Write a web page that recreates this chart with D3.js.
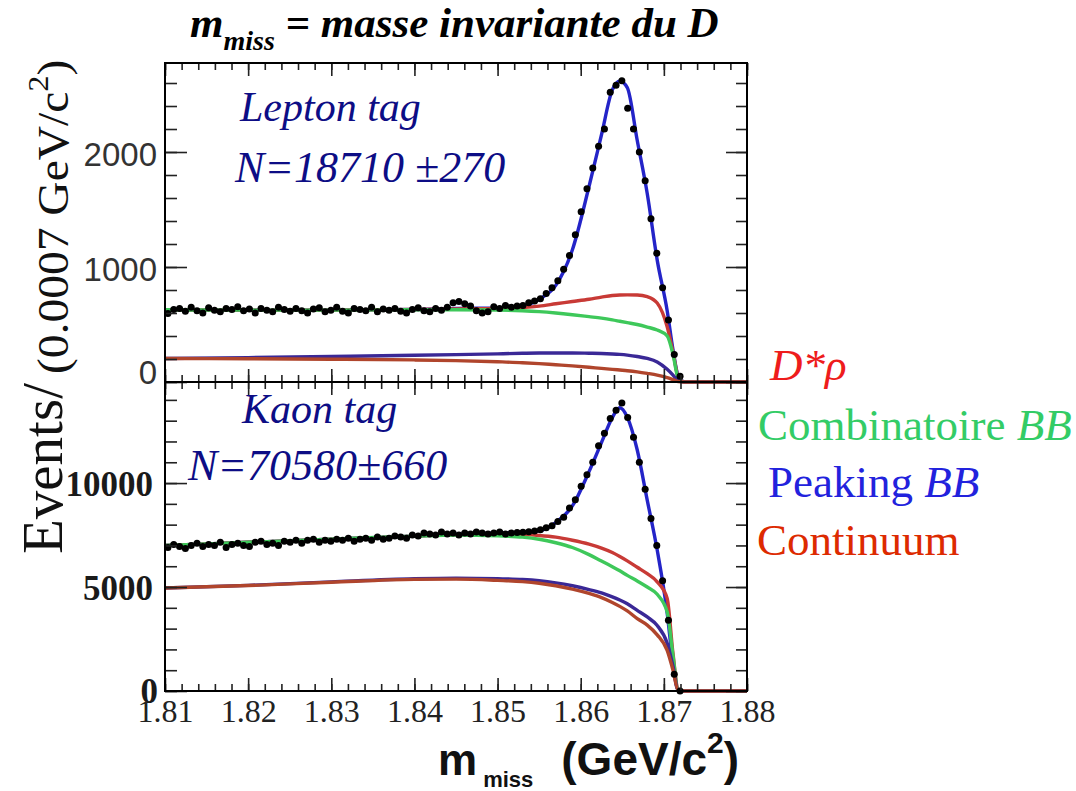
<!DOCTYPE html>
<meta charset="utf-8">
<head>
<script src="https://d3js.org/d3.v7.min.js"></script>
<style>
  body { margin: 0; background: #fff; }
  svg text { font-family: "Liberation Serif", "Times New Roman", serif; }
</style>
</head>
<body>
<script>
"use strict";

// histogram binning (0.0007 GeV/c^2 per bin, starting at 1.81)
var binLo = 1.81, binW = 0.0007;

// data points, lepton tag (events per bin)
var lepCounts = [
  595, 630, 640, 615, 650, 620, 600, 645, 625, 610,
  640, 630, 655, 620, 635, 600, 640, 625, 610, 650,
  630, 615, 640, 620, 600, 635, 645, 610, 625, 650,
  615, 600, 640, 630, 620, 650, 610, 635, 625, 640,
  615, 600, 630, 645, 620, 610, 640, 625, 650, 690,
  700, 680, 660, 620, 600, 610, 655, 640, 665, 650,
  660, 665, 690, 705, 725, 770, 820, 880, 980, 1100,
  1280, 1480, 1680, 1860, 2050, 2200, 2520, 2580, 2620, 2380,
  2200, 2000, 1750, 1420, 1120, 820, 540, 240, 50
];

// data points, kaon tag
var kaoCounts = [
  6900, 7050, 6950, 6850, 7000, 7100, 6950, 7050, 7000, 7150,
  6900, 7050, 7100, 7000, 6950, 7150, 7200, 7050, 7100, 7000,
  7200, 7150, 7250, 7100, 7250, 7300, 7150, 7250, 7200, 7300,
  7250, 7350, 7200, 7300, 7350, 7250, 7400, 7300, 7350, 7450,
  7400, 7350, 7500, 7450, 7600, 7550, 7500, 7650, 7550, 7600,
  7500, 7600, 7550, 7650, 7600, 7550, 7600, 7650, 7550, 7600,
  7620, 7630, 7660, 7700, 7760, 7850, 7950, 8150, 8350, 8800,
  9200, 9850, 10400, 11000, 11800, 12400, 13100, 13500, 13850, 13150,
  12200, 11000, 9700, 8300, 7000, 5300, 3400, 800, 0
];

// fit curves (stacked), read at these masses
var knotX = [1.81, 1.82, 1.83, 1.84, 1.845, 1.85, 1.853, 1.855, 1.857, 1.859, 1.861, 1.8625,
             1.8638, 1.8647, 1.8656, 1.8668, 1.868, 1.8692, 1.8704, 1.8711, 1.8717, 1.8725, 1.88];

var lepTotal = [628, 625, 625, 630, 640, 642, 660, 720, 840, 1150, 1700, 2150, 2540, 2615, 2560, 2100, 1640, 1060, 620, 280, 60, 0, 0];
var lepDrho  = [628, 625, 625, 630, 636, 640, 648, 660, 680, 700, 720, 738, 752, 757, 758, 757, 742, 687, 480, 260, 50, 0, 0];
var lepComb  = [628, 625, 625, 628, 628, 626, 620, 612, 600, 585, 568, 555, 540, 528, 516, 500, 478, 452, 400, 240, 40, 0, 0];
var lepPeak  = [205, 212, 222, 232, 238, 245, 250, 252, 252, 252, 250, 248, 244, 240, 234, 222, 205, 174, 110, 60, 12, 0, 0];
var lepCont  = [205, 202, 198, 192, 186, 176, 168, 160, 150, 140, 128, 118, 110, 104, 98, 88, 75, 60, 38, 20, 4, 0, 0];

var kaoTotal = [7000, 7150, 7300, 7450, 7540, 7600, 7620, 7700, 8100, 8900, 10550, 11950, 13150, 13620, 13170, 11590, 9180, 6780, 3750, 1300, 50, 0, 0];
var kaoDrho  = [7000, 7150, 7300, 7450, 7520, 7540, 7520, 7480, 7400, 7250, 7060, 6870, 6660, 6470, 6260, 5950, 5640, 5250, 4450, 1800, 100, 0, 0];
var kaoComb  = [7000, 7150, 7300, 7450, 7500, 7460, 7400, 7300, 7130, 6900, 6560, 6250, 5980, 5780, 5560, 5290, 5000, 4650, 3800, 1700, 80, 0, 0];
var kaoPeak  = [4950, 5080, 5250, 5400, 5430, 5400, 5360, 5300, 5200, 5060, 4880, 4720, 4530, 4380, 4200, 3880, 3560, 3150, 2300, 1200, 60, 0, 0];
var kaoCont  = [4950, 5070, 5230, 5370, 5380, 5320, 5260, 5180, 5060, 4900, 4690, 4490, 4260, 4070, 3850, 3480, 3170, 2700, 1950, 1000, 40, 0, 0];

var xTicks = [1.81, 1.82, 1.83, 1.84, 1.85, 1.86, 1.87, 1.88];

var width = 1076, height = 791;
var svg = d3.select("body").append("svg")
    .attr("width", width)
    .attr("height", height);

var x = d3.scaleLinear().domain([1.81, 1.88]).range([165, 747]);
var yTop = d3.scaleLinear().domain([0, 2774]).range([382, 63]);
var yBot = d3.scaleLinear().domain([0, 14860]).range([691, 382]);

var colors = {
  total: "#2424c8",
  drho: "#c83a36",
  comb: "#3ec85a",
  peak: "#3a2896",
  cont: "#b0452c"
};

function drawPanel(y, counts, curves) {
  var g = svg.append("g");
  var line = d3.line()
      .x((d) => x(d[0]))
      .y((d) => y(d[1]))
      .curve(d3.curveMonotoneX);

  curves.forEach(function(c) {
    g.append("path")
      .datum(knotX.map((k, i) => [k, c.values[i]]))
      .attr("fill", "none")
      .attr("stroke", c.color)
      .attr("stroke-width", 3.4)
      .attr("d", line);
  });

  var pts = counts.map((v, i) => [binLo + binW * (i + 0.5), v]);
  g.selectAll("line.bin")
    .data(pts)
    .enter().append("line")
      .attr("x1", (d) => x(d[0] - binW / 2))
      .attr("x2", (d) => x(d[0] + binW / 2))
      .attr("y1", (d) => y(d[1]))
      .attr("y2", (d) => y(d[1]))
      .attr("stroke", "#000")
      .attr("stroke-width", 2.6);
  g.selectAll("circle")
    .data(pts)
    .enter().append("circle")
      .attr("cx", (d) => x(d[0]))
      .attr("cy", (d) => y(d[1]))
      .attr("r", 3.5)
      .attr("fill", "#000");
  return g;
}

drawPanel(yTop, lepCounts, [
  {values: lepTotal, color: colors.total},
  {values: lepDrho, color: colors.drho},
  {values: lepComb, color: colors.comb},
  {values: lepPeak, color: colors.peak},
  {values: lepCont, color: colors.cont}
]);
drawPanel(yBot, kaoCounts, [
  {values: kaoTotal, color: colors.total},
  {values: kaoDrho, color: colors.drho},
  {values: kaoComb, color: colors.comb},
  {values: kaoPeak, color: colors.peak},
  {values: kaoCont, color: colors.cont}
]);

// frames and ticks
function ticks(axis, tr, size) {
  var g = svg.append("g").attr("transform", tr)
    .call(axis.tickSizeInner(size).tickSizeOuter(0));
  g.select(".domain").remove();
  g.selectAll(".tick line").attr("stroke", "#222").attr("stroke-width", 1.6);
  return g;
}
var xMinor = d3.range(0, 36).map((i) => 1.81 + i * 0.002);

[[yTop, 2774, 200, 1000], [yBot, 14860, 1000, 5000]].forEach(function(p) {
  var y = p[0];
  var minor = d3.range(0, p[1], p[2]);
  var major = d3.range(0, p[1], p[3]);
  var y0 = y.range()[0], y1 = y.range()[1];
  ticks(d3.axisLeft(y).tickValues(minor).tickFormat(""), "translate(165,0)", -12);
  ticks(d3.axisLeft(y).tickValues(major).tickFormat(""), "translate(165,0)", -22);
  ticks(d3.axisRight(y).tickValues(minor).tickFormat(""), "translate(747,0)", -11);
  ticks(d3.axisRight(y).tickValues(major).tickFormat(""), "translate(747,0)", -21);
  ticks(d3.axisBottom(x).tickValues(xMinor).tickFormat(""), "translate(0," + y0 + ")", -7);
  ticks(d3.axisBottom(x).tickValues(xTicks).tickFormat(""), "translate(0," + y0 + ")", -13);
  ticks(d3.axisTop(x).tickValues(xMinor).tickFormat(""), "translate(0," + y1 + ")", -7);
  ticks(d3.axisTop(x).tickValues(xTicks).tickFormat(""), "translate(0," + y1 + ")", -13);
  svg.append("rect")
    .attr("x", 165).attr("y", y1)
    .attr("width", 582).attr("height", y0 - y1)
    .attr("fill", "none")
    .attr("stroke", "#000")
    .attr("stroke-width", 2);
});

// y tick labels
var topLab = svg.append("g").attr("transform", "translate(165,0)")
  .call(d3.axisLeft(yTop).tickValues([0, 1000, 2000]).tickFormat(d3.format("d")).tickSize(0).tickPadding(8));
topLab.select(".domain").remove();
topLab.selectAll("text")
  .style("font-family", "'Liberation Sans', Arial, sans-serif")
  .style("font-size", "33px")
  .attr("fill", "#333")
  .attr("dy", "0.42em")
  .filter((d) => d === 0).attr("y", -12);

var botLab = svg.append("g").attr("transform", "translate(165,0)")
  .call(d3.axisLeft(yBot).tickValues([0, 5000, 10000]).tickFormat(d3.format("d")).tickSize(0).tickPadding(12));
botLab.select(".domain").remove();
botLab.selectAll("text")
  .style("font-family", "'Liberation Serif', 'Times New Roman', serif")
  .style("font-size", "35px")
  .style("font-weight", "bold")
  .attr("fill", "#1a1a1a")
  .attr("dy", "0.36em")
  .filter((d) => d === 0).attr("x", -7).attr("y", -1);

// x tick labels
var xLab = svg.append("g").attr("transform", "translate(0,691)")
  .call(d3.axisBottom(x).tickValues(xTicks).tickFormat(d3.format(".2f")).tickSize(0).tickPadding(8));
xLab.select(".domain").remove();
xLab.selectAll("text")
  .style("font-family", "'Liberation Serif', serif")
  .style("font-size", "32px")
  .attr("fill", "#222");

// title
var title = svg.append("text")
  .attr("x", 190).attr("y", 37)
  .style("font-weight", "bold").style("font-style", "italic")
  .style("font-size", "43px");
title.append("tspan").text("m");
title.append("tspan").attr("dy", 13).style("font-size", "28px").text("miss");
title.append("tspan").attr("dy", -13).text(" = masse invariante du D");

// panel annotations
var navy = "#0d0d85";
[["Lepton tag", 240, 121, 42], ["N=18710 \u00b1270", 235, 182, 44],
 ["Kaon tag", 242, 423, 42], ["N=70580\u00b1660", 188, 480, 44]].forEach(function(t) {
  svg.append("text")
    .attr("x", t[1]).attr("y", t[2])
    .style("font-style", "italic")
    .style("font-size", t[3] + "px")
    .attr("fill", navy)
    .text(t[0]);
});

// legend
var leg = [
  {x: 770, y: 380, color: "#ee1c1c", parts: [["D*\u03c1", true]]},
  {x: 758, y: 440, color: "#33cc66", parts: [["Combinatoire ", false], ["BB", true]]},
  {x: 768, y: 497, color: "#2222dd", parts: [["Peaking ", false], ["BB", true]]},
  {x: 757, y: 555, color: "#dd2a00", parts: [["Continuum", false]]}
];
leg.forEach(function(l) {
  var t = svg.append("text")
    .attr("x", l.x).attr("y", l.y)
    .style("font-size", "45px")
    .attr("fill", l.color);
  l.parts.forEach(function(p) {
    t.append("tspan").style("font-style", p[1] ? "italic" : "normal").text(p[0]);
  });
});

// y axis title
svg.append("text")
  .attr("transform", "translate(62,554) rotate(-90)")
  .style("font-size", "57px")
  .attr("fill", "#111")
  .text("Events/");
var yt = svg.append("text")
  .attr("transform", "translate(68,374) rotate(-90) scale(1.08,1)")
  .style("font-size", "44px")
  .attr("fill", "#111");
yt.append("tspan").text("(0.0007 GeV/c");
yt.append("tspan").attr("dy", -20).style("font-size", "30px").text("2");
yt.append("tspan").attr("dy", 20).text(")");

// x axis title
var xt = svg.append("text")
  .attr("x", 438).attr("y", 775)
  .style("font-family", "'Liberation Sans', Arial, sans-serif")
  .style("font-weight", "bold")
  .style("font-size", "44px")
  .attr("fill", "#111");
xt.append("tspan").text("m");
xt.append("tspan").attr("dx", 6).attr("dy", 12).style("font-size", "22px").text("miss");
xt.append("tspan").attr("dx", 28).attr("dy", -12).style("font-size", "46px").text("(GeV/c");
xt.append("tspan").attr("dy", -22).style("font-size", "30px").text("2");
xt.append("tspan").attr("dy", 22).style("font-size", "46px").text(")");
</script>
</body>
